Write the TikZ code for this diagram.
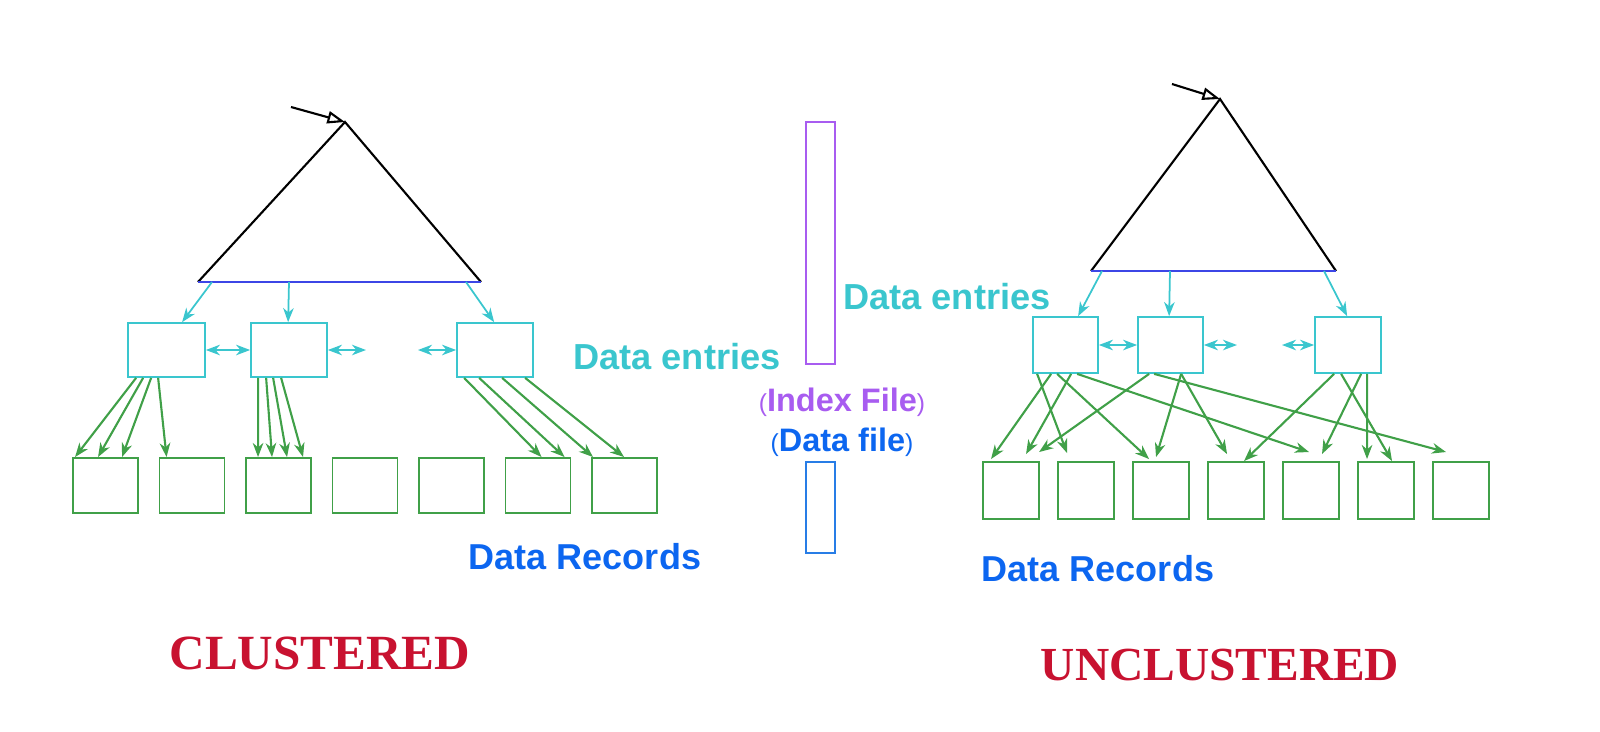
\documentclass[tikz,border=0pt]{standalone}
\usepackage{fontspec}
\setmainfont{Liberation Sans}
\newfontfamily\capsfont{Liberation Serif}
\usetikzlibrary{arrows.meta,calc,positioning}
\definecolor{entrycyan}{RGB}{58,198,206}
\definecolor{recgreen}{RGB}{64,160,72}
\definecolor{baseblue}{RGB}{60,70,230}
\definecolor{idxpurple}{RGB}{168,92,240}
\definecolor{fileblue}{RGB}{12,102,240}
\definecolor{rectblue}{RGB}{40,125,230}
\definecolor{titlered}{RGB}{200,18,48}
\newcommand{\smallpar}[1]{{\mdseries\fontsize{14}{18}\selectfont #1}}
\tikzset{
    %Define standard arrow tip
    >={Stealth[length=8pt,width=6pt,inset=2.5pt]},
    %Define style for boxes
    idxnode/.style={
             draw=entrycyan, line width=1pt,
             inner sep=0pt},
    recnode/.style={
             draw=recgreen, line width=1.1pt,
             inner sep=0pt},
    filenode/.style={
             line width=1pt,
             minimum width=0.58cm,
             inner sep=0pt},
    % Define arrow style
    ptrarrow/.style={
            ->,
            recgreen,
            line width=1.2pt},
    downarrow/.style={
            ->,
            entrycyan,
            line width=1pt},
    sibarrow/.style={
            <->,
            entrycyan,
            line width=1pt},
    rootarrow/.style={
            -{Triangle[open,length=10pt,width=7pt]},
            line width=1.2pt},
    % Define text style
    entrytext/.style={
            text=entrycyan, inner sep=0pt,
            font=\bfseries\fontsize{20.6}{24}\selectfont},
    recordtext/.style={
            text=fileblue, inner sep=0pt,
            font=\bfseries\fontsize{20.5}{24}\selectfont},
    titletext/.style={
            text=titlered, inner sep=0pt,
            font=\capsfont\bfseries\fontsize{28}{32}\selectfont}
}
\begin{document}
\begin{tikzpicture}[x=0.02cm, y=-0.02cm]
 \useasboundingbox (0,0) rectangle (1600,731);
 % clustered tree
 \coordinate (ltop) at (345,122);
 \coordinate (lbl) at (198,282);
 \coordinate (lbr) at (481,282);
 \coordinate (lin) at (291,107);
 \draw[line width=1.2pt] (lbl) -- (ltop) -- (lbr);
 \draw[baseblue, line width=1.4pt] (lbl) -- (lbr);
 \draw[rootarrow] (lin) -- (ltop);
 \node[idxnode, minimum width=1.54cm, minimum height=1.08cm] (li1) at (166.5,350) {};
 \node[idxnode, minimum width=1.52cm, minimum height=1.08cm] (li2) at (289,350) {};
 \node[idxnode, minimum width=1.52cm, minimum height=1.08cm] (li3) at (495,350) {};
 \foreach \i in {1,...,7}
   \node[recnode, minimum width=1.3cm, minimum height=1.1cm] (lr\i) at ({105.5+86.5*(\i-1)},485.5) {};
 \path ($(lbl)+(14,0)$) edge[downarrow] ($(li1.north west)+(55,0)$)
       ($(lbl)+(91,0)$) edge[downarrow] ($(li2.north west)+(38,0)$)
       ($(lbl)+(268,0)$) edge[downarrow] ($(li3.north west)+(38,0)$);
 \coordinate (lgo) at (366,350);
 \coordinate (lcome) at (418,350);
 \draw[sibarrow] (li1.east) -- (li2.west);
 \draw[sibarrow] (li2.east) -- (lgo);
 \draw[sibarrow] (lcome) -- (li3.west);
 \foreach \s/\b/\t/\e in {9/1/1/3, 16/1/1/26, 24/1/1/50, 31/1/2/8,
                          8/2/3/13, 16/2/3/27, 23/2/3/42, 31/2/3/58,
                          8/3/6/37, 23/3/6/60, 46/3/7/2, 69/3/7/33}
   \draw[ptrarrow] ($(li\b.south west)+(\s,0)$) -- ($(lr\t.north west)+(\e,0)$);
 % unclustered tree
 \coordinate (rtop) at (1220,99);
 \coordinate (rbl) at (1091,271);
 \coordinate (rbr) at (1336,271);
 \coordinate (rin) at (1172,84);
 \draw[line width=1.2pt] (rbl) -- (rtop) -- (rbr);
 \draw[baseblue, line width=1.4pt] (rbl) -- (rbr);
 \draw[rootarrow] (rin) -- (rtop);
 \node[idxnode, minimum width=1.3cm, minimum height=1.12cm] (ri1) at (1065.5,345) {};
 \node[idxnode, minimum width=1.3cm, minimum height=1.12cm] (ri2) at (1170.5,345) {};
 \node[idxnode, minimum width=1.32cm, minimum height=1.12cm] (ri3) at (1348,345) {};
 \foreach \i in {1,...,7}
   \node[recnode, minimum width=1.12cm, minimum height=1.14cm] (rr\i) at ({1011+75*(\i-1)},490.5) {};
 \path ($(rbl)+(11,0)$) edge[downarrow] ($(ri1.north west)+(46,0)$)
       ($(rbl)+(79,0)$) edge[downarrow] ($(ri2.north west)+(32,0)$)
       ($(rbl)+(233,0)$) edge[downarrow] ($(ri3.north west)+(33,0)$);
 \coordinate (rgo) at (1237,345);
 \coordinate (rcome) at (1282,345);
 \draw[sibarrow] (ri1.east) -- (ri2.west);
 \draw[sibarrow] (ri2.east) -- (rgo);
 \draw[sibarrow] (rcome) -- (ri3.west);
 \foreach \s/\b/\t/\e/\u in {5/1/2/10/-8, 19/1/1/9/-2, 25/1/3/17/-2, 39/1/1/44/-7, 45/1/5/27/-9,
                             12/2/1/57/-9, 17/2/7/14/-9, 44/2/3/24/-4, 44/2/4/20/-7,
                             20/3/4/37/0, 47/3/5/40/-7, 53/3/6/10/-2, 27/3/6/35/0}
   \draw[ptrarrow] ($(ri\b.south west)+(\s,0)$) -- ($(rr\t.north west)+(\e,\u)$);
 % files in the middle
 \node[filenode, draw=idxpurple, minimum height=4.84cm] (ixfile) at (820.5,243) {};
 \node[filenode, draw=rectblue, minimum height=1.82cm] (dtfile) at (820.5,507.5) {};
 \node[entrytext, anchor=west] (lentry) at (573,357) {Data entries};
 \node[entrytext, anchor=west] (rentry) at (843,297) {Data entries};
 \node[text=idxpurple, font=\bfseries\fontsize{18.5}{22}\selectfont, inner sep=0pt] (ixtext) at (842,402) {\smallpar{(}Index File\smallpar{)}};
 \node[text=fileblue, font=\bfseries\fontsize{18.5}{22}\selectfont, inner sep=0pt] (dttext) at (842,442) {\smallpar{(}Data file\smallpar{)}};
 \node[recordtext] (lrec) at (585,557) {Data Records};
 \node[recordtext] (rrec) at (1098,569) {Data Records};
 \node[titletext] (ltitle) at (320,653) {CLUSTERED};
 \node[titletext, font=\capsfont\bfseries\fontsize{27}{32}\selectfont] (rtitle) at (1220,665) {UNCLUSTERED};
\end{tikzpicture}
\end{document}
